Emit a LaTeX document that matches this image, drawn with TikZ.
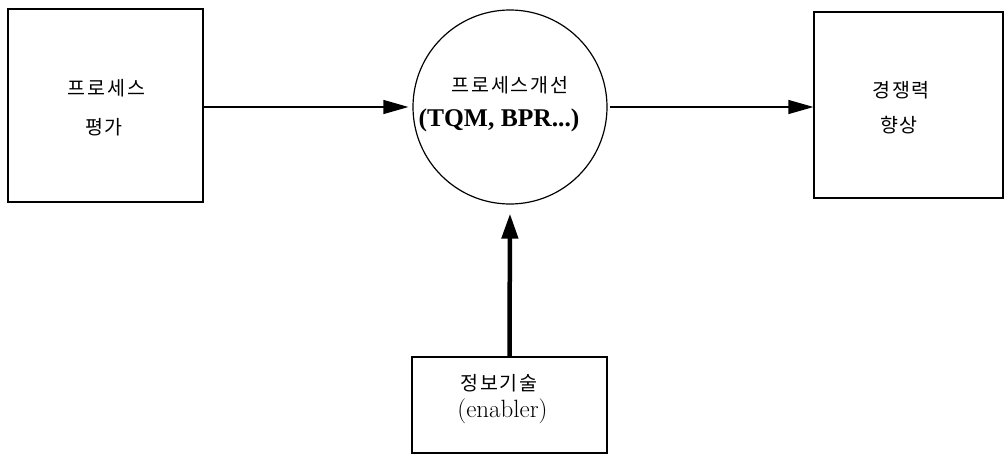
\documentclass[tikz,border=0pt]{standalone}
\usepackage{fontspec}
\newfontfamily\kr[LetterSpace=9]{Noto Sans CJK KR}
\newfontfamily\serifbold{Liberation Serif}
\usetikzlibrary{arrows.meta}
\begin{document}
\begin{tikzpicture}[x=1pt,y=-1pt,
  box/.style={draw, line width=1.2pt, inner sep=0pt},
  krtext/.style={font={\fontsize{19.5}{22}\selectfont\kr}, inner sep=0pt},
  lattext/.style={font={\fontsize{25}{28}\selectfont}, inner sep=0pt},
  flow/.style={line width=1.2pt, -{Triangle[length=25pt,width=14pt]}},
  feed/.style={line width=4.5pt, -{Triangle[length=25pt,width=16pt]}}]
\useasboundingbox (0,0) rectangle (1007,455);

% process assessment
\node[box, minimum width=195pt, minimum height=193pt] (assess) at (105.5,105.5) {};
\node[krtext] (assess1) at (106.5,88) {프로세스};
\node[krtext] (assess2) at (104,127) {평가};

% process improvement
\node[box, circle, minimum size=194pt] (improve) at (510,107) {};
\node[krtext] (improve1) at (510,85) {프로세스개선};
\node[lattext] (improve2) at (499,120) {\fontsize{25.5}{28}\serifbold\bfseries (TQM, BPR...)};

% competitiveness
\node[box, minimum width=189pt, minimum height=186pt] (compete) at (908.5,105) {};
\node[krtext] (compete1) at (901,90) {경쟁력};
\node[krtext] (compete2) at (899,125) {향상};

% information technology
\node[box, minimum width=195pt, minimum height=96pt] (infotech) at (509.5,405) {};
\node[krtext] (infotech1) at (499,383) {정보기술};
\node[lattext] (infotech2) at (502.5,411) {(enabler)};

% connectors
\draw[flow, shorten >=4pt] (assess.east |- improve.west) -- (improve.west);
\draw[flow, shorten <=2pt] (improve.east) -- (compete.west |- improve.east);
\draw[feed, shorten >=9pt] (infotech.north) -- (improve.south);
\end{tikzpicture}
\end{document}
